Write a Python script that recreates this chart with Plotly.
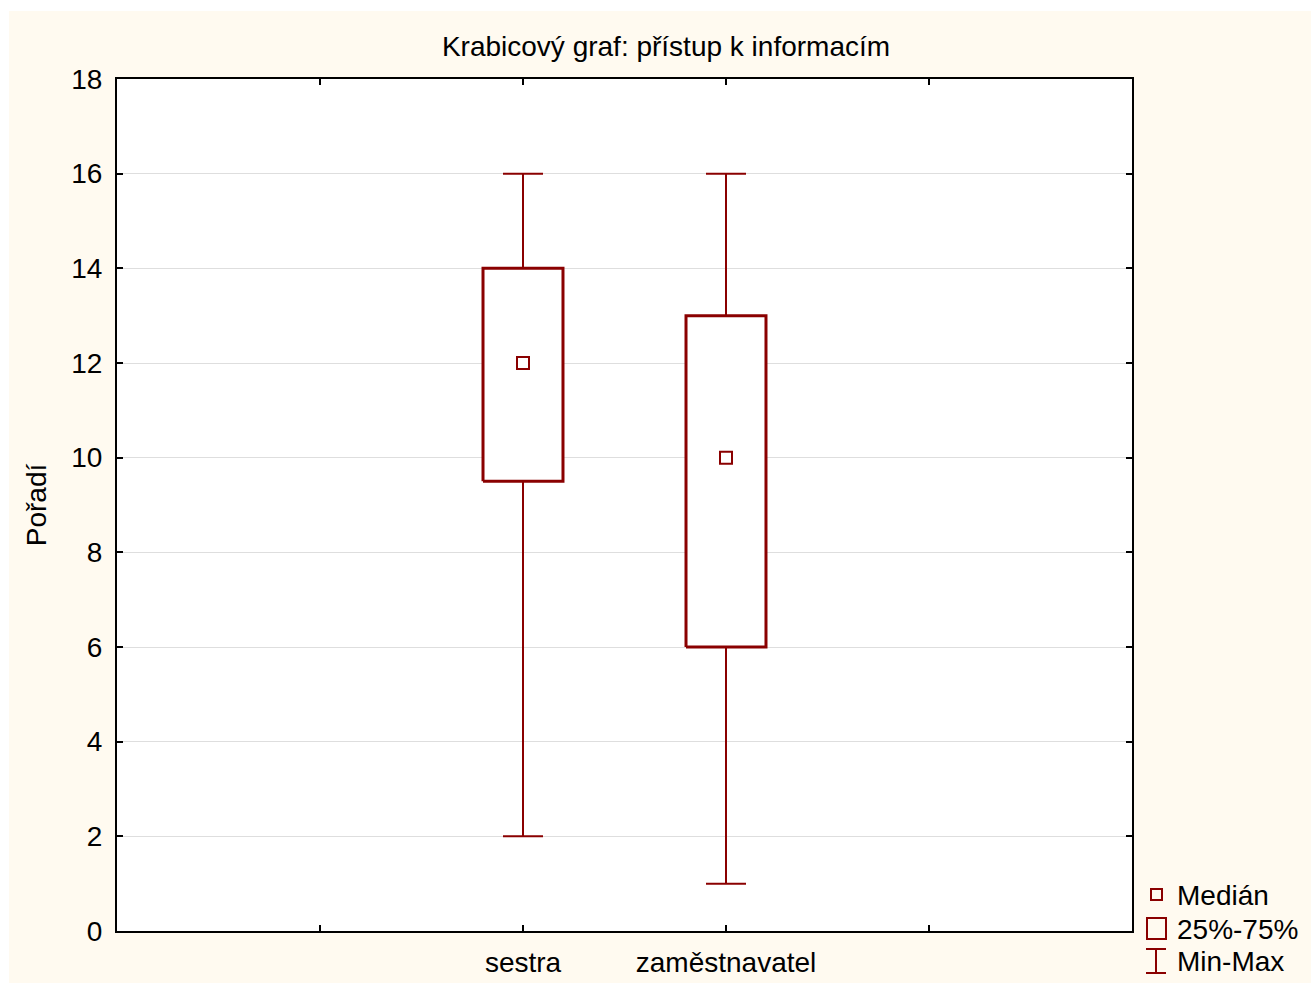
import plotly.graph_objects as go

# Box-plot summary per group (rank values)
categories = ["sestra", "zaměstnavatel"]
minimum = [2, 1]
q1 = [9.5, 6]
median = [12, 10]
q3 = [14, 13]
maximum = [16, 16]

y_ticks = [0, 2, 4, 6, 8, 10, 12, 14, 16, 18]

# Styling
RED = "#8A0000"
CREAM = "#FFFAF0"
FONT = "Liberation Sans, Arial, sans-serif"
FS = 28
W, H = 1311, 983
ML, MR, MT, MB = 117, 179, 79, 52
BOX_HALF = 0.197
CAP_HALF = 0.0985

# category slots on a numeric axis 0..5
positions = [i + 2 for i in range(len(categories))]

fig = go.Figure()

for p, lo, a, m, b, hi in zip(positions, minimum, q1, median, q3, maximum):
    # whiskers with caps
    fig.add_trace(go.Scatter(
        x=[p, p, None, p, p, None, p - CAP_HALF, p + CAP_HALF, None, p - CAP_HALF, p + CAP_HALF],
        y=[lo, a, None, b, hi, None, lo, lo, None, hi, hi],
        mode="lines", line=dict(color=RED, width=2),
        hoverinfo="skip", showlegend=False))
    # interquartile box
    fig.add_trace(go.Scatter(
        x=[p - BOX_HALF, p + BOX_HALF, p + BOX_HALF, p - BOX_HALF, p - BOX_HALF],
        y=[a, a, b, b, a],
        mode="lines", fill="toself", fillcolor="white",
        line=dict(color=RED, width=3),
        hoverinfo="skip", showlegend=False))
    # median marker
    fig.add_trace(go.Scatter(
        x=[p], y=[m], mode="markers",
        marker=dict(symbol="square-open", size=12, color=RED, line=dict(width=2, color=RED)),
        hoverinfo="skip", showlegend=False))


def px(xp):
    return (xp - ML) / (W - ML - MR)


def py(yp):
    return (H - MB - yp) / (H - MT - MB)


shapes = [
    # white page strips along top and left edge
    dict(type="rect", xref="paper", yref="paper", x0=px(-5), x1=px(W + 5), y0=py(11), y1=py(-5),
         fillcolor="white", line=dict(width=0), layer="below"),
    dict(type="rect", xref="paper", yref="paper", x0=px(-5), x1=px(9), y0=py(H + 5), y1=py(-5),
         fillcolor="white", line=dict(width=0), layer="below"),
    # legend icons
    dict(type="rect", xref="paper", yref="paper", x0=px(1151), x1=px(1162), y0=py(900), y1=py(889),
         line=dict(color=RED, width=2), fillcolor="rgba(0,0,0,0)"),
    dict(type="rect", xref="paper", yref="paper", x0=px(1147), x1=px(1166), y0=py(939), y1=py(918),
         line=dict(color=RED, width=2), fillcolor="rgba(0,0,0,0)"),
    dict(type="line", xref="paper", yref="paper", x0=px(1156), x1=px(1156), y0=py(973), y1=py(949),
         line=dict(color=RED, width=2)),
    dict(type="line", xref="paper", yref="paper", x0=px(1146), x1=px(1166), y0=py(949), y1=py(949),
         line=dict(color=RED, width=2)),
    dict(type="line", xref="paper", yref="paper", x0=px(1146), x1=px(1166), y0=py(973), y1=py(973),
         line=dict(color=RED, width=2)),
]

legend_items = ["Medián", "25%-75%", "Min-Max"]
legend_y = [895, 929, 962]
annotations = [
    dict(text=t, xref="paper", yref="paper", x=px(1175), y=py(yy), xanchor="left", yanchor="middle",
         showarrow=False, font=dict(family=FONT, size=FS, color="black"))
    for t, yy in zip(legend_items, legend_y)
]

fig.update_layout(
    width=W, height=H,
    margin=dict(l=ML, r=MR, t=MT, b=MB, pad=0),
    paper_bgcolor=CREAM, plot_bgcolor="white",
    font=dict(family=FONT, size=FS, color="black"),
    title=dict(text="Krabicový graf: přístup k informacím", x=px(666), xref="paper", xanchor="center",
               y=1 - 46 / H, yref="container", yanchor="middle",
               font=dict(family=FONT, size=FS, color="black")),
    shapes=shapes, annotations=annotations, showlegend=False,
)

fig.update_xaxes(
    range=[0, 5], tickmode="array", tickvals=[1, 2, 3, 4],
    ticktext=[""] + categories + [""],
    showgrid=False, zeroline=False, automargin=False,
    showline=True, linecolor="black", linewidth=2, mirror="ticks",
    ticks="inside", ticklen=6, tickwidth=1.5, tickcolor="black",
    ticklabelstandoff=5,
    tickfont=dict(family=FONT, size=FS, color="black"),
)
fig.update_yaxes(
    range=[0, 18], tickmode="array", tickvals=y_ticks,
    showgrid=True, gridcolor="#DEDEDE", gridwidth=1, zeroline=False, automargin=False,
    showline=True, linecolor="black", linewidth=2, mirror="ticks",
    ticks="inside", ticklen=6, tickwidth=1.5, tickcolor="black",
    ticklabelstandoff=7,
    tickfont=dict(family=FONT, size=FS, color="black"),
    title=dict(text="Pořadí", standoff=16, font=dict(family=FONT, size=FS, color="black")),
)

fig.write_html("out.html")
